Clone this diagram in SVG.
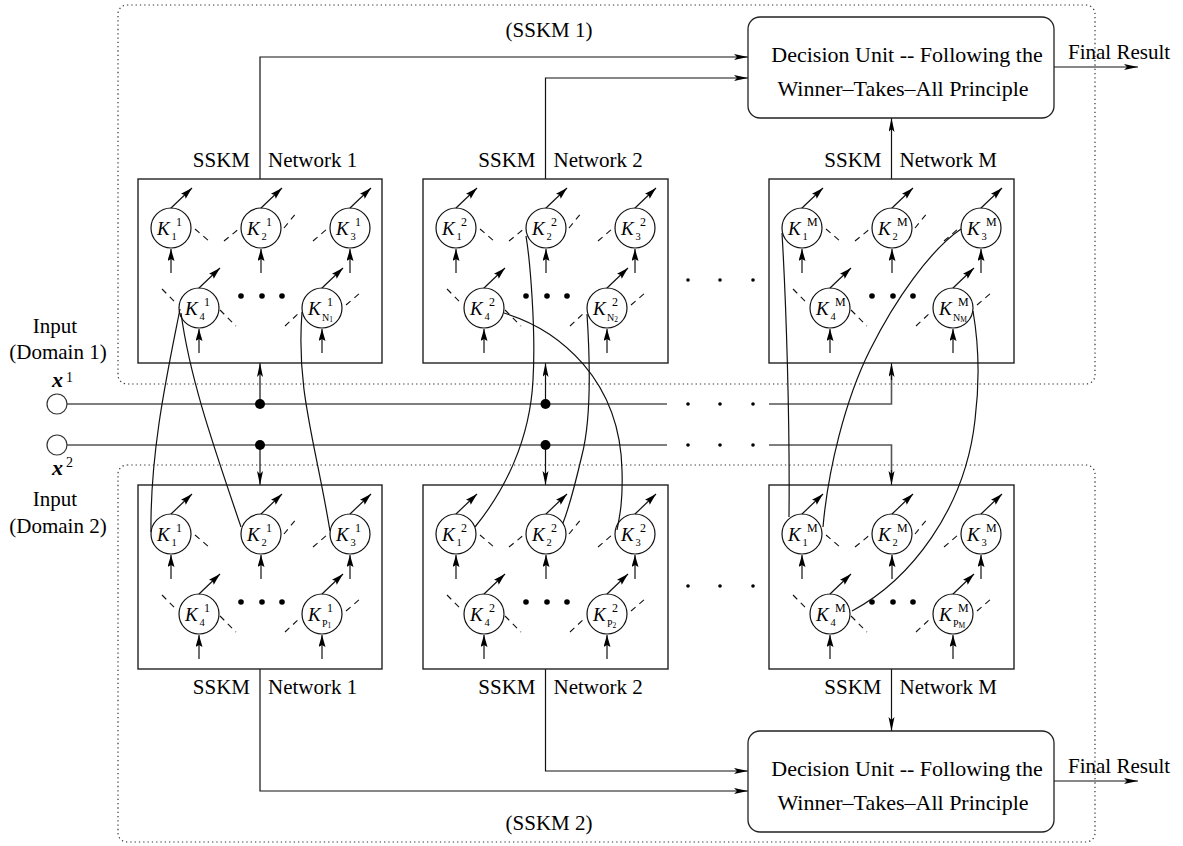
<svg xmlns="http://www.w3.org/2000/svg" width="1183" height="846" viewBox="0 0 1183 846">
<style>
text{font-family:"Liberation Serif","Times New Roman",serif;fill:#000}
.lbl{font-size:21px}
.dul{font-size:22px}
.k{font-size:19px;font-style:italic}
.sup{font-size:12px;font-style:normal}
.sub{font-size:10.5px;font-style:normal}
.subs{font-size:10px;font-style:normal}
.subt{font-size:7.5px;font-style:normal}
.node circle{fill:#fff;stroke:#111;stroke-width:1.2}
.node line{stroke:#111;stroke-width:1.2;marker-end:url(#ah)}
.dash{stroke:#111;stroke-width:1.1;stroke-dasharray:6,5;fill:none}
.box{fill:#fff;stroke:#222;stroke-width:1.4}
.grp{fill:none;stroke:#333;stroke-width:1.2;stroke-dasharray:1.3,3}
.du{fill:#fff;stroke:#222;stroke-width:1.3}
.con{fill:none;stroke:#111;stroke-width:1.2}
.arr{marker-end:url(#ah2)}
.inl{fill:none;stroke:#555;stroke-width:1.6}
.cv{fill:none;stroke:#111;stroke-width:1.2}
.dot{fill:#000}
</style>
<defs>
<marker id="ah" markerUnits="userSpaceOnUse" markerWidth="13" markerHeight="8" refX="12" refY="3.5" orient="auto"><path d="M0,0 L12,3.5 L0,7 L2,3.5 z" fill="#000"/></marker>
<marker id="ah2" markerUnits="userSpaceOnUse" markerWidth="15" markerHeight="8" refX="14" refY="3" orient="auto"><path d="M0,0 L14,3 L0,6 L3,3 z" fill="#000"/></marker>
</defs>
<rect width="1183" height="846" fill="#fff"/>

<!-- group frames -->
<g id="sskm1-frame"><rect class="grp" x="118" y="5" width="977" height="379" rx="9"/><text class="lbl" x="549" y="37" text-anchor="middle">(SSKM 1)</text></g>
<g id="sskm2-frame"><rect class="grp" x="118" y="465" width="977" height="377" rx="9"/><text class="lbl" x="549" y="830" text-anchor="middle">(SSKM 2)</text></g>

<!-- connectors -->
<g id="connectors">
<path class="con arr" d="M260,179 V57 H748"/>
<path class="con arr" d="M545.5,179 V78 H748"/>
<path class="con arr" d="M891.5,179 V118"/>
<path class="con arr" d="M260,669 V791 H748"/>
<path class="con arr" d="M545.5,669 V771 H748"/>
<path class="con arr" d="M891.5,669 V731"/>
<path class="con arr" d="M1054,67 H1138"/>
<path class="con arr" d="M1054,781 H1138"/>
<path class="inl" d="M67,404 H667 M769,404 H891.5 V372"/>
<path class="inl" d="M67,445 H667 M769,445 H891.5 V476"/>
<path class="con arr" d="M891.5,380 V363"/>
<path class="con arr" d="M891.5,470 V485"/>
<path class="con arr" d="M260,404 V363"/>
<path class="con arr" d="M545.5,404 V363"/>
<path class="con arr" d="M260,445 V485"/>
<path class="con arr" d="M545.5,445 V485"/>
<circle class="dot" cx="260" cy="404" r="5"/>
<circle class="dot" cx="545.5" cy="404" r="5"/>
<circle class="dot" cx="260" cy="445" r="5"/>
<circle class="dot" cx="545.5" cy="445" r="5"/>
<circle class="dot" cx="688" cy="404" r="1.8"/><circle class="dot" cx="720" cy="404" r="1.8"/><circle class="dot" cx="753" cy="404" r="1.8"/>
<circle class="dot" cx="688" cy="445" r="1.8"/><circle class="dot" cx="720" cy="445" r="1.8"/><circle class="dot" cx="753" cy="445" r="1.8"/>
<circle class="dot" cx="688" cy="280" r="1.8"/><circle class="dot" cx="720" cy="280" r="1.8"/><circle class="dot" cx="753" cy="280" r="1.8"/>
<circle class="dot" cx="688" cy="586" r="1.8"/><circle class="dot" cx="720" cy="586" r="1.8"/><circle class="dot" cx="753" cy="586" r="1.8"/>
</g>

<!-- inputs -->
<g id="input1"><circle cx="57" cy="404" r="10" fill="#fff" stroke="#333" stroke-width="1.2"/>
<text class="lbl" x="55" y="333" text-anchor="middle">Input</text><text class="lbl" x="58" y="359" text-anchor="middle">(Domain 1)</text>
<text x="52" y="387" font-size="22" font-weight="bold" font-style="italic">x</text><text x="66" y="382" font-size="14">1</text></g>
<g id="input2"><circle cx="57" cy="445" r="10" fill="#fff" stroke="#333" stroke-width="1.2"/>
<text x="52" y="475" font-size="22" font-weight="bold" font-style="italic">x</text><text x="66" y="467" font-size="14">2</text>
<text class="lbl" x="55" y="506" text-anchor="middle">Input</text><text class="lbl" x="58" y="533" text-anchor="middle">(Domain 2)</text></g>

<!-- decision units -->
<g id="decision1"><rect class="du" x="748" y="17" width="306" height="101" rx="12"/>
<text class="dul" x="907" y="62" text-anchor="middle">Decision Unit -- Following the</text>
<text class="dul" x="903" y="96" text-anchor="middle">Winner–Takes–All Principle</text>
<text class="lbl" x="1068" y="59">Final Result</text></g>
<g id="decision2"><rect class="du" x="748" y="731" width="306" height="101" rx="12"/>
<text class="dul" x="907" y="776" text-anchor="middle">Decision Unit -- Following the</text>
<text class="dul" x="903" y="810" text-anchor="middle">Winner–Takes–All Principle</text>
<text class="lbl" x="1068" y="773">Final Result</text></g>

<!-- network labels -->
<g id="labels">
<text class="lbl" x="250" y="167" text-anchor="end">SSKM</text><text class="lbl" x="268" y="167">Network 1</text>
<text class="lbl" x="535.5" y="167" text-anchor="end">SSKM</text><text class="lbl" x="553.5" y="167">Network 2</text>
<text class="lbl" x="881.5" y="167" text-anchor="end">SSKM</text><text class="lbl" x="899.5" y="167">Network M</text>
<text class="lbl" x="250" y="694" text-anchor="end">SSKM</text><text class="lbl" x="268" y="694">Network 1</text>
<text class="lbl" x="535.5" y="694" text-anchor="end">SSKM</text><text class="lbl" x="553.5" y="694">Network 2</text>
<text class="lbl" x="881.5" y="694" text-anchor="end">SSKM</text><text class="lbl" x="899.5" y="694">Network M</text>
</g>

<!-- TOP NETWORK 1 -->
<g id="net1-top">
<rect class="box" x="138" y="179" width="244" height="184"/>
<circle class="dot" cx="241" cy="296" r="2.8"/><circle class="dot" cx="262" cy="296" r="2.8"/><circle class="dot" cx="282" cy="296" r="2.8"/>
<g id="t1k1" class="node" transform="translate(171,228)"><circle r="20"/><line x1="0" y1="45" x2="0" y2="21"/><line x1="0" y1="-20" x2="21" y2="-40"/><path class="dash" d="M24,1 L38,13"/><text class="k" x="-14" y="7">K<tspan class="sup" x="5" y="-2">1</tspan><tspan class="sub" x="0.5" y="12">1</tspan></text></g>
<g id="t1k2" class="node" transform="translate(261,228)"><circle r="20"/><line x1="0" y1="45" x2="0" y2="21"/><line x1="0" y1="-20" x2="21" y2="-40"/><path class="dash" d="M-37,13 L-21,0 M23,0 L36,-16"/><text class="k" x="-14" y="7">K<tspan class="sup" x="5" y="-2">1</tspan><tspan class="sub" x="0.5" y="12">2</tspan></text></g>
<g id="t1k3" class="node" transform="translate(350,228)"><circle r="20"/><line x1="0" y1="45" x2="0" y2="21"/><line x1="0" y1="-20" x2="21" y2="-40"/><path class="dash" d="M-37,13 L-23,1"/><text class="k" x="-14" y="7">K<tspan class="sup" x="5" y="-2">1</tspan><tspan class="sub" x="0.5" y="12">3</tspan></text></g>
<g id="t1k4" class="node" transform="translate(199,308)"><circle r="20"/><line x1="0" y1="45" x2="0" y2="21"/><line x1="0" y1="-20" x2="21" y2="-40"/><path class="dash" d="M-37,-19 L-23,-5 M21,2 L37,18"/><text class="k" x="-14" y="7">K<tspan class="sup" x="5" y="-2">1</tspan><tspan class="sub" x="0.5" y="12">4</tspan></text></g>
<g id="t1kn" class="node" transform="translate(322,308)"><circle r="20"/><line x1="0" y1="45" x2="0" y2="21"/><line x1="0" y1="-20" x2="21" y2="-40"/><path class="dash" d="M-37,18 L-22,4 M24,-3 L38,-15"/><text class="k" x="-14" y="7">K<tspan class="sup" x="5" y="-2">1</tspan><tspan class="subs" x="0" y="13">N</tspan><tspan class="subt" y="14">1</tspan></text></g>
</g>

<!-- TOP NETWORK 2 -->
<g id="net2-top">
<rect class="box" x="423" y="179" width="245" height="184"/>
<circle class="dot" cx="526" cy="296" r="2.8"/><circle class="dot" cx="547" cy="296" r="2.8"/><circle class="dot" cx="567" cy="296" r="2.8"/>
<g id="t2k1" class="node" transform="translate(456,228)"><circle r="20"/><line x1="0" y1="45" x2="0" y2="21"/><line x1="0" y1="-20" x2="21" y2="-40"/><path class="dash" d="M24,1 L38,13"/><text class="k" x="-14" y="7">K<tspan class="sup" x="5" y="-2">2</tspan><tspan class="sub" x="0.5" y="12">1</tspan></text></g>
<g id="t2k2" class="node" transform="translate(546,228)"><circle r="20"/><line x1="0" y1="45" x2="0" y2="21"/><line x1="0" y1="-20" x2="21" y2="-40"/><path class="dash" d="M-37,13 L-21,0 M23,0 L36,-16"/><text class="k" x="-14" y="7">K<tspan class="sup" x="5" y="-2">2</tspan><tspan class="sub" x="0.5" y="12">2</tspan></text></g>
<g id="t2k3" class="node" transform="translate(635,228)"><circle r="20"/><line x1="0" y1="45" x2="0" y2="21"/><line x1="0" y1="-20" x2="21" y2="-40"/><path class="dash" d="M-37,13 L-23,1"/><text class="k" x="-14" y="7">K<tspan class="sup" x="5" y="-2">2</tspan><tspan class="sub" x="0.5" y="12">3</tspan></text></g>
<g id="t2k4" class="node" transform="translate(484,308)"><circle r="20"/><line x1="0" y1="45" x2="0" y2="21"/><line x1="0" y1="-20" x2="21" y2="-40"/><path class="dash" d="M-37,-19 L-23,-5 M21,2 L37,18"/><text class="k" x="-14" y="7">K<tspan class="sup" x="5" y="-2">2</tspan><tspan class="sub" x="0.5" y="12">4</tspan></text></g>
<g id="t2kn" class="node" transform="translate(607,308)"><circle r="20"/><line x1="0" y1="45" x2="0" y2="21"/><line x1="0" y1="-20" x2="21" y2="-40"/><path class="dash" d="M-37,18 L-22,4 M24,-3 L38,-15"/><text class="k" x="-14" y="7">K<tspan class="sup" x="5" y="-2">2</tspan><tspan class="subs" x="0" y="13">N</tspan><tspan class="subt" y="14">2</tspan></text></g>
</g>

<!-- TOP NETWORK M -->
<g id="netM-top">
<rect class="box" x="769" y="179" width="245" height="184"/>
<circle class="dot" cx="872" cy="296" r="2.8"/><circle class="dot" cx="893" cy="296" r="2.8"/><circle class="dot" cx="913" cy="296" r="2.8"/>
<g id="tMk1" class="node" transform="translate(802,228)"><circle r="20"/><line x1="0" y1="45" x2="0" y2="21"/><line x1="0" y1="-20" x2="21" y2="-40"/><path class="dash" d="M24,1 L38,13"/><text class="k" x="-14" y="7">K<tspan class="sup" x="5" y="-2">M</tspan><tspan class="sub" x="0.5" y="12">1</tspan></text></g>
<g id="tMk2" class="node" transform="translate(892,228)"><circle r="20"/><line x1="0" y1="45" x2="0" y2="21"/><line x1="0" y1="-20" x2="21" y2="-40"/><path class="dash" d="M-37,13 L-21,0 M23,0 L36,-16"/><text class="k" x="-14" y="7">K<tspan class="sup" x="5" y="-2">M</tspan><tspan class="sub" x="0.5" y="12">2</tspan></text></g>
<g id="tMk3" class="node" transform="translate(981,228)"><circle r="20"/><line x1="0" y1="45" x2="0" y2="21"/><line x1="0" y1="-20" x2="21" y2="-40"/><path class="dash" d="M-37,13 L-23,1"/><text class="k" x="-14" y="7">K<tspan class="sup" x="5" y="-2">M</tspan><tspan class="sub" x="0.5" y="12">3</tspan></text></g>
<g id="tMk4" class="node" transform="translate(830,308)"><circle r="20"/><line x1="0" y1="45" x2="0" y2="21"/><line x1="0" y1="-20" x2="21" y2="-40"/><path class="dash" d="M-37,-19 L-23,-5 M21,2 L37,18"/><text class="k" x="-14" y="7">K<tspan class="sup" x="5" y="-2">M</tspan><tspan class="sub" x="0.5" y="12">4</tspan></text></g>
<g id="tMkn" class="node" transform="translate(953,308)"><circle r="20"/><line x1="0" y1="45" x2="0" y2="21"/><line x1="0" y1="-20" x2="21" y2="-40"/><path class="dash" d="M-37,18 L-22,4 M24,-3 L38,-15"/><text class="k" x="-14" y="7">K<tspan class="sup" x="5" y="-2">M</tspan><tspan class="subs" x="0" y="13">N</tspan><tspan class="subt" y="14">M</tspan></text></g>
</g>

<!-- BOTTOM NETWORK 1 -->
<g id="net1-bot">
<rect class="box" x="138" y="485" width="244" height="184"/>
<circle class="dot" cx="241" cy="602" r="2.8"/><circle class="dot" cx="262" cy="602" r="2.8"/><circle class="dot" cx="282" cy="602" r="2.8"/>
<g id="b1k1" class="node" transform="translate(171,534)"><circle r="20"/><line x1="0" y1="45" x2="0" y2="21"/><line x1="0" y1="-20" x2="21" y2="-40"/><path class="dash" d="M24,1 L38,13"/><text class="k" x="-14" y="7">K<tspan class="sup" x="5" y="-2">1</tspan><tspan class="sub" x="0.5" y="12">1</tspan></text></g>
<g id="b1k2" class="node" transform="translate(261,534)"><circle r="20"/><line x1="0" y1="45" x2="0" y2="21"/><line x1="0" y1="-20" x2="21" y2="-40"/><path class="dash" d="M23,0 L36,-16"/><text class="k" x="-14" y="7">K<tspan class="sup" x="5" y="-2">1</tspan><tspan class="sub" x="0.5" y="12">2</tspan></text></g>
<g id="b1k3" class="node" transform="translate(350,534)"><circle r="20"/><line x1="0" y1="45" x2="0" y2="21"/><line x1="0" y1="-20" x2="21" y2="-40"/><path class="dash" d="M-37,13 L-23,1"/><text class="k" x="-14" y="7">K<tspan class="sup" x="5" y="-2">1</tspan><tspan class="sub" x="0.5" y="12">3</tspan></text></g>
<g id="b1k4" class="node" transform="translate(199,614)"><circle r="20"/><line x1="0" y1="45" x2="0" y2="21"/><line x1="0" y1="-20" x2="21" y2="-40"/><path class="dash" d="M-37,-19 L-23,-5 M21,2 L37,18"/><text class="k" x="-14" y="7">K<tspan class="sup" x="5" y="-2">1</tspan><tspan class="sub" x="0.5" y="12">4</tspan></text></g>
<g id="b1kp" class="node" transform="translate(322,614)"><circle r="20"/><line x1="0" y1="45" x2="0" y2="21"/><line x1="0" y1="-20" x2="21" y2="-40"/><path class="dash" d="M-37,18 L-22,4 M24,-3 L38,-15"/><text class="k" x="-14" y="7">K<tspan class="sup" x="5" y="-2">1</tspan><tspan class="subs" x="0" y="13">P</tspan><tspan class="subt" y="14">1</tspan></text></g>
</g>

<!-- BOTTOM NETWORK 2 -->
<g id="net2-bot">
<rect class="box" x="423" y="485" width="245" height="184"/>
<circle class="dot" cx="526" cy="602" r="2.8"/><circle class="dot" cx="547" cy="602" r="2.8"/><circle class="dot" cx="567" cy="602" r="2.8"/>
<g id="b2k1" class="node" transform="translate(456,534)"><circle r="20"/><line x1="0" y1="45" x2="0" y2="21"/><line x1="0" y1="-20" x2="21" y2="-40"/><path class="dash" d="M24,1 L38,13"/><text class="k" x="-14" y="7">K<tspan class="sup" x="5" y="-2">2</tspan><tspan class="sub" x="0.5" y="12">1</tspan></text></g>
<g id="b2k2" class="node" transform="translate(546,534)"><circle r="20"/><line x1="0" y1="45" x2="0" y2="21"/><line x1="0" y1="-20" x2="21" y2="-40"/><path class="dash" d="M-37,13 L-21,0 M23,0 L36,-16"/><text class="k" x="-14" y="7">K<tspan class="sup" x="5" y="-2">2</tspan><tspan class="sub" x="0.5" y="12">2</tspan></text></g>
<g id="b2k3" class="node" transform="translate(635,534)"><circle r="20"/><line x1="0" y1="45" x2="0" y2="21"/><line x1="0" y1="-20" x2="21" y2="-40"/><path class="dash" d="M-37,13 L-23,1"/><text class="k" x="-14" y="7">K<tspan class="sup" x="5" y="-2">2</tspan><tspan class="sub" x="0.5" y="12">3</tspan></text></g>
<g id="b2k4" class="node" transform="translate(484,614)"><circle r="20"/><line x1="0" y1="45" x2="0" y2="21"/><line x1="0" y1="-20" x2="21" y2="-40"/><path class="dash" d="M-37,-19 L-23,-5 M21,2 L37,18"/><text class="k" x="-14" y="7">K<tspan class="sup" x="5" y="-2">2</tspan><tspan class="sub" x="0.5" y="12">4</tspan></text></g>
<g id="b2kp" class="node" transform="translate(607,614)"><circle r="20"/><line x1="0" y1="45" x2="0" y2="21"/><line x1="0" y1="-20" x2="21" y2="-40"/><path class="dash" d="M-37,18 L-22,4 M24,-3 L38,-15"/><text class="k" x="-14" y="7">K<tspan class="sup" x="5" y="-2">2</tspan><tspan class="subs" x="0" y="13">P</tspan><tspan class="subt" y="14">2</tspan></text></g>
</g>

<!-- BOTTOM NETWORK M -->
<g id="netM-bot">
<rect class="box" x="769" y="485" width="245" height="184"/>
<circle class="dot" cx="872" cy="602" r="2.8"/><circle class="dot" cx="893" cy="602" r="2.8"/><circle class="dot" cx="913" cy="602" r="2.8"/>
<g id="bMk1" class="node" transform="translate(802,534)"><circle r="20"/><line x1="0" y1="45" x2="0" y2="21"/><line x1="0" y1="-20" x2="21" y2="-40"/><path class="dash" d="M24,1 L38,13"/><text class="k" x="-14" y="7">K<tspan class="sup" x="5" y="-2">M</tspan><tspan class="sub" x="0.5" y="12">1</tspan></text></g>
<g id="bMk2" class="node" transform="translate(892,534)"><circle r="20"/><line x1="0" y1="45" x2="0" y2="21"/><line x1="0" y1="-20" x2="21" y2="-40"/><path class="dash" d="M-37,13 L-21,0 M23,0 L36,-16"/><text class="k" x="-14" y="7">K<tspan class="sup" x="5" y="-2">M</tspan><tspan class="sub" x="0.5" y="12">2</tspan></text></g>
<g id="bMk3" class="node" transform="translate(981,534)"><circle r="20"/><line x1="0" y1="45" x2="0" y2="21"/><line x1="0" y1="-20" x2="21" y2="-40"/><path class="dash" d="M-37,13 L-23,1"/><text class="k" x="-14" y="7">K<tspan class="sup" x="5" y="-2">M</tspan><tspan class="sub" x="0.5" y="12">3</tspan></text></g>
<g id="bMk4" class="node" transform="translate(830,614)"><circle r="20"/><line x1="0" y1="45" x2="0" y2="21"/><line x1="0" y1="-20" x2="21" y2="-40"/><path class="dash" d="M-37,-19 L-23,-5 M21,2 L37,18"/><text class="k" x="-14" y="7">K<tspan class="sup" x="5" y="-2">M</tspan><tspan class="sub" x="0.5" y="12">4</tspan></text></g>
<g id="bMkp" class="node" transform="translate(953,614)"><circle r="20"/><line x1="0" y1="45" x2="0" y2="21"/><line x1="0" y1="-20" x2="21" y2="-40"/><path class="dash" d="M-37,18 L-22,4 M24,-3 L38,-15"/><text class="k" x="-14" y="7">K<tspan class="sup" x="5" y="-2">M</tspan><tspan class="subs" x="0" y="13">P</tspan><tspan class="subt" y="14">M</tspan></text></g>
</g>

<!-- cross-domain links -->
<g id="links">
<path class="cv" d="M180,309 C168,370 150,450 151,532"/>
<path class="cv" d="M181,313 C190,380 215,450 241,527"/>
<path class="cv" d="M302,312 C296,390 315,440 330,531"/>
<path class="cv" d="M526,236 C530,260 536,330 533,380 C530,440 505,490 475,527"/>
<path class="cv" d="M587,314 C590,360 591,420 582,455 C575,485 570,505 563,523"/>
<path class="cv" d="M504,313 C560,330 620,380 622,470 C623,500 620,515 617,530"/>
<path class="cv" d="M782,233 C786,300 790,420 789,517"/>
<path class="cv" d="M823,527 C828,470 845,400 870,350 C895,300 930,250 961,229"/>
<path class="cv" d="M973,311 C978,340 980,380 975,420 C965,510 910,580 852,611"/>
</g>
</svg>
